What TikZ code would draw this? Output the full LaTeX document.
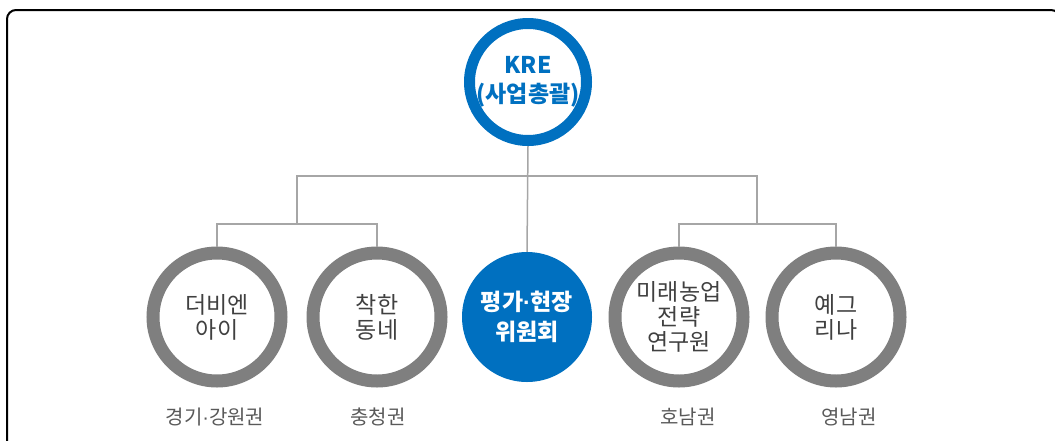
\documentclass[tikz,border=0pt]{standalone}
\usepackage{fontspec}
\setmainfont{Noto Sans CJK KR}
\newfontfamily\latinfont{Liberation Sans}
\newcommand\mdot{{\latinfont ·}}
\definecolor{kreblue}{HTML}{0070C0}
\definecolor{ringgray}{HTML}{7F7F7F}
\definecolor{linkgray}{HTML}{A6A6A6}
\definecolor{namegray}{HTML}{404040}
\definecolor{areagray}{HTML}{595959}

\begin{document}
\begin{tikzpicture}[x=1pt,y=-1pt,
        headring/.style={circle,draw=kreblue,line width=11pt,minimum size=117pt,inner sep=0pt,align=center,text=kreblue,font=\bfseries\fontsize{23}{29}\selectfont},
        ring/.style={circle,draw=ringgray,line width=13pt,minimum size=128pt,inner sep=0pt,align=center,text=namegray,font=\fontsize{23}{25}\selectfont},
        bluedisc/.style={circle,fill=kreblue,minimum size=130pt,inner sep=0pt,align=center,text=white,font=\bfseries\fontsize{23}{30}\selectfont},
        area/.style={text=areagray,font=\fontsize{20}{22}\selectfont},
        link/.style={draw=linkgray,line width=1.5pt}]
    \useasboundingbox (0,0) rectangle (1055,440);
    \clip (0,0) rectangle (1055,440);
    \draw[line width=2pt,rounded corners=9pt] (7,10) rectangle (1060,460);

    \node[headring] (kre) at (528,82) {KRE\\(사업총괄)};
    \node[ring] (dbn) at (217,317) {더비엔\\아이};
    \node[ring] (chak) at (377,317) {착한\\동네};
    \node[bluedisc] (eval) at (527,317) {평가\mdot 현장\\위원회};
    \node[ring] (mirae) at (679,317) {미래농업\\전략\\연구원};
    \node[ring] (yegri) at (836,317) {예그\\리나};

    \node[area] (dbnarea) at (215,417) {경기\mdot 강원권};
    \node[area] (chakarea) at (378,417) {충청권};
    \node[area] (miraearea) at (688,417) {호남권};
    \node[area] (yegriarea) at (849,417) {영남권};

    \coordinate (bus) at (527,176);
    \coordinate (lbus) at (297,224);
    \coordinate (rbus) at (757,224);
    \draw[link] (kre.south) -- (eval.north);
    \draw[link] (lbus) -- (lbus |- bus) -- (rbus |- bus) -- (rbus);
    \draw[link] (dbn.north) -- (dbn.north |- lbus) -- (chak.north |- lbus) -- (chak.north);
    \draw[link] (mirae.north) -- (mirae.north |- rbus) -- (yegri.north |- rbus) -- (yegri.north);
\end{tikzpicture}
\end{document}
